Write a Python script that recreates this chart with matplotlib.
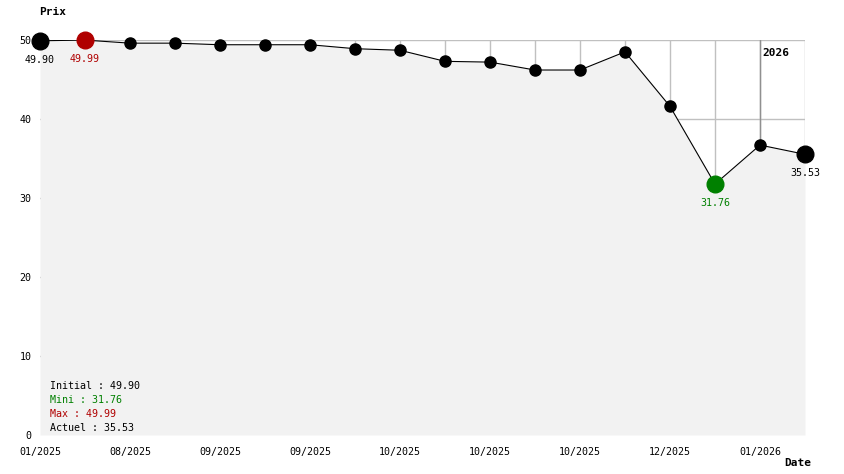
import matplotlib
matplotlib.use("Agg")
import matplotlib.pyplot as plt

# price history (one point per survey, evenly spaced)
prix = [49.90, 49.99, 49.6, 49.6, 49.4, 49.4, 49.4, 48.9, 48.7, 47.3,
        47.2, 46.2, 46.2, 48.5, 41.6, 31.76, 36.7, 35.53]
tick_pos = [0, 2, 4, 6, 8, 10, 12, 14, 16]
tick_labels = ["01/2025", "08/2025", "09/2025", "09/2025", "10/2025",
               "10/2025", "10/2025", "12/2025", "01/2026"]
year_pos = 16
year_label = "2026"

initial, mini, maxi, actuel = 49.90, 31.76, 49.99, 35.53
i_max, i_min = 1, 15

red = "#b00000"
green = "#008000"
mono = "DejaVu Sans Mono"

x = list(range(len(prix)))

fig = plt.figure(figsize=(8.44, 4.74), dpi=100)
ax = fig.add_axes([40 / 844, 39 / 474, 765 / 844, 395 / 474])
ax.set_xlim(0, len(prix) - 1)
ax.set_ylim(0, 50)
for s in ax.spines.values():
    s.set_visible(False)

# grid (hidden under the fill)
for xi in x[1:]:
    ax.axvline(xi, color="#c0c0c0", lw=1, zorder=0)
for yv in range(10, 51, 10):
    ax.axhline(yv, color="#c0c0c0", lw=1, zorder=0)
ax.axvline(year_pos, color="#909090", lw=1, zorder=0.5)

ax.fill_between(x, prix, 0, color="#f2f2f2", lw=0, zorder=1)
ax.plot(x, prix, color="black", lw=0.8, zorder=2)
ax.plot(x, prix, "o", color="black", ms=8, zorder=3, clip_on=False)
ax.plot([0, len(prix) - 1], [initial, actuel], "o", color="black", ms=12,
        zorder=4, clip_on=False)
ax.plot([i_max], [maxi], "o", color=red, ms=12, zorder=4, clip_on=False)
ax.plot([i_min], [mini], "o", color=green, ms=12, zorder=4, clip_on=False)

lbl = dict(ha="center", va="top", fontsize=7.2, family=mono, zorder=5)
off = dict(xytext=(0, -10), textcoords="offset points")
ax.annotate("%.2f" % initial, (0, initial), **off, **lbl)
ax.annotate("%.2f" % maxi, (i_max, maxi), color=red, **off, **lbl)
ax.annotate("%.2f" % mini, (i_min, mini), color=green, **off, **lbl)
ax.annotate("%.2f" % actuel, (len(prix) - 1, actuel), **off, **lbl)

ax.text(year_pos + 0.05, 49, year_label, fontsize=8, family=mono,
        fontweight="bold", ha="left", va="top")

ax.set_xticks(tick_pos)
ax.set_xticklabels(tick_labels, family=mono, fontsize=7.2)
ax.set_yticks(range(0, 51, 10))
ax.set_yticklabels([str(v) for v in range(0, 51, 10)], family=mono, fontsize=7.2)
ax.tick_params(axis="x", length=0, pad=9)
ax.tick_params(axis="y", length=0, pad=6)

stats = [("Initial : %.2f" % initial, "black"),
         ("Mini : %.2f" % mini, green),
         ("Max : %.2f" % maxi, red),
         ("Actuel : %.2f" % actuel, "black")]
for k, (t, c) in enumerate(stats):
    fig.text(50 / 844, 1 - (386 + k * 14) / 474, t, color=c, fontsize=7.2,
             family=mono, va="center")

fig.text(39 / 844, 1 - 12 / 474, "Prix", fontsize=8, family=mono,
         fontweight="bold", va="center")
fig.text(811 / 844, 1 - 463 / 474, "Date", fontsize=8, family=mono,
         fontweight="bold", va="center", ha="right")

fig.savefig("out.png", dpi=100)
